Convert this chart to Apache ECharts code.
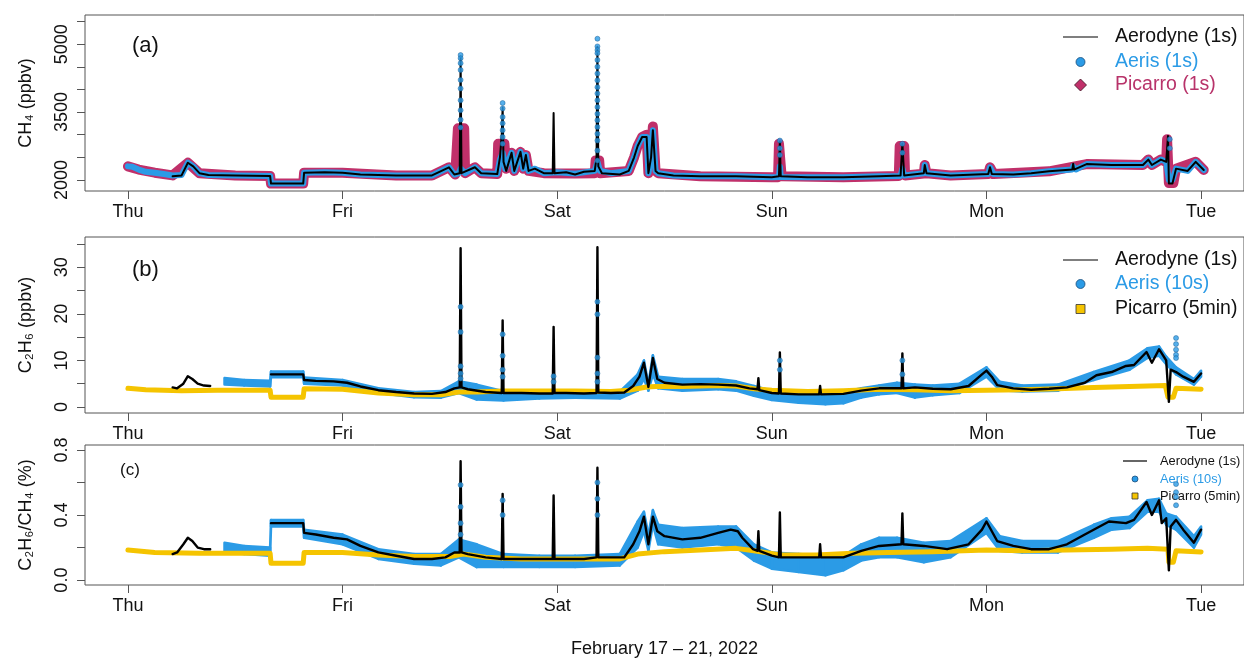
<!DOCTYPE html>
<html><head><meta charset="utf-8">
<script src="https://cdn.jsdelivr.net/npm/echarts@6/dist/echarts.min.js"></script>
<style>html,body{margin:0;padding:0;background:#fff}#c{width:1244px;height:659px}</style>
</head><body><div id="c"></div><script>
// ---- axis ticks / labels ----
const dayLabels = ['Thu','Fri','Sat','Sun','Mon','Tue'];
const dayHours = [0,24,48,72,96,120];
const ticksCH4 = [2000,2500,3000,3500,4000,4500,5000,5500];
const labelsCH4 = [2000,3500,5000];
const ticksC2H6 = [0,5,10,15,20,25,30,35];
const labelsC2H6 = [0,10,20,30];
const ticksRatio = [0,0.2,0.4,0.6,0.8];
const labelsRatio = [0,0.4,0.8];

// ---- panel (a) CH4, ppbv : [hour since Thu 00:00, value] ----
const aerodyneCH4 = [[5.0,2080],[6.0,2100],[6.7,2380],[7.3,2300],[8.0,2150],[9.0,2110],[12,2100],[15.9,2090],[16.0,1920],[19.6,1920],[19.7,2160],[22,2170],[24,2160],[26,2120],[30,2100],[34,2100],[35.9,2280],[36.5,2120],[37.1,2150],[37.2,4720],[37.3,2150],[38.8,2280],[39.5,2150],[41.3,2130],[41.6,2500],[41.8,3000],[41.9,3600],[42.0,2400],[42.3,2200],[42.9,2600],[43.2,2200],[43.9,2620],[44.2,2250],[44.5,2550],[44.8,2200],[45.5,2250],[46.5,2150],[47.5,2150],[47.6,3480],[47.7,2150],[49,2170],[50,2120],[51,2180],[52.2,2200],[52.4,2500],[52.5,4940],[52.6,2300],[53,2150],[55,2120],[56.0,2200],[56.6,2500],[57.0,2750],[57.5,2950],[58.0,2950],[58.2,2150],[58.5,2500],[58.7,3100],[59.0,2200],[59.3,2150],[61,2100],[64,2080],[68,2080],[72,2060],[72.8,2080],[72.9,2850],[73.0,2080],[76,2060],[80,2060],[84,2080],[86.4,2100],[86.6,2800],[86.8,2100],[89,2150],[89.1,2330],[89.3,2150],[92,2100],[96.2,2130],[96.4,2280],[96.6,2130],[99,2120],[101,2150],[103,2190],[105.6,2230],[105.7,2360],[105.8,2230],[107.2,2350],[110,2330],[113.5,2330],[114.1,2450],[114.5,2330],[115.5,2450],[116.1,2400],[116.3,2970],[116.4,1920],[116.8,1920],[117.2,2250],[118.5,2200],[119.4,2400],[120.3,2220]];
const aerisCH4 = [[0,2300],[0.5,2290],[1.2,2230],[2,2180],[3,2160],[4,2130],[5,2100],[6,2110],[6.7,2380],[7.3,2300],[8,2150],[9,2110],[12,2100],[15.9,2090],[16.0,1920],[19.6,1920],[19.7,2160],[22,2170],[24,2160],[26,2120],[30,2100],[34,2100],[35.9,2280],[36.5,2120],[37.0,2150],[37.2,2250],[37.7,2150],[38.8,2280],[39.5,2150],[41.3,2130],[41.6,2450],[41.9,2600],[42.2,2250],[42.9,2600],[43.2,2200],[43.9,2620],[44.2,2250],[44.5,2550],[44.8,2200],[45.5,2250],[46.5,2150],[48,2170],[50,2140],[52.2,2200],[52.5,2400],[52.8,2200],[54,2150],[56,2200],[56.6,2500],[57,2750],[57.5,2950],[58,2950],[58.2,2150],[58.5,2500],[58.7,3100],[59,2200],[59.3,2150],[61,2100],[64,2080],[68,2080],[72,2060],[72.8,2065],[72.9,2300],[73.0,2065],[76,2060],[80,2060],[84,2080],[86.4,2090],[86.6,2250],[86.8,2100],[89,2150],[89.1,2330],[89.3,2150],[92,2100],[96.2,2130],[96.4,2280],[96.8,2130],[99,2120],[101,2150],[103,2190],[105.6,2230],[105.7,2300],[106,2230],[107.2,2350],[110,2330],[113.5,2330],[114.1,2450],[114.5,2330],[115.5,2450],[116.1,2400],[116.4,2000],[116.8,2000],[117.2,2250],[118.5,2200],[119.4,2400],[120.3,2220]];
const picarroCH4 = [[0,2300],[1.2,2230],[3,2160],[5,2100],[6.7,2380],[8,2150],[12,2100],[15.9,2090],[16.0,1920],[19.6,1920],[19.7,2160],[24,2160],[30,2100],[34,2100],[35.9,2280],[36.6,2120],[36.8,2120],[36.9,3140],[37.6,3140],[37.7,2150],[38.8,2280],[39.5,2150],[41.3,2130],[41.4,2800],[42.1,2800],[42.3,2250],[42.9,2600],[43.2,2200],[43.9,2620],[44.2,2250],[44.5,2550],[44.8,2200],[46.5,2150],[50,2140],[52.2,2150],[52.3,2430],[52.7,2430],[52.8,2150],[56,2200],[56.6,2500],[57,2750],[57.5,2950],[58,3000],[58.2,2150],[58.5,2600],[58.7,3180],[59,2200],[59.3,2150],[64,2080],[72,2060],[72.7,2060],[72.8,2800],[73.0,2800],[73.1,2080],[80,2060],[86.2,2090],[86.3,2750],[86.8,2750],[86.9,2100],[89.0,2140],[89.1,2330],[89.3,2150],[92,2100],[96.2,2130],[96.4,2280],[96.8,2130],[103,2190],[107.2,2350],[113.5,2330],[114.1,2450],[114.5,2330],[115.5,2450],[116.1,2400],[116.2,2900],[116.4,1930],[116.9,1930],[117.2,2250],[119.4,2400],[120.3,2220]];
const aerisSpikesCH4 = [[37.2,4760],[37.2,4690],[37.2,4580],[37.2,4430],[37.2,4210],[37.2,4020],[37.2,3760],[37.2,3540],[37.2,3330],[37.2,3160],[41.9,3700],[41.9,3580],[41.9,3390],[41.9,3250],[41.9,3100],[41.9,2950],[41.9,2800],[52.5,5120],[52.5,4950],[52.5,4870],[52.5,4800],[52.5,4650],[52.5,4500],[52.5,4350],[52.5,4200],[52.5,4050],[52.5,3910],[52.5,3760],[52.5,3610],[52.5,3460],[52.5,3320],[52.5,3170],[52.5,3020],[52.5,2870],[52.5,2650],[52.5,2430],[72.9,2870],[72.9,2700],[72.9,2550],[86.6,2800],[86.6,2600],[116.5,2900],[116.5,2700]];

// ---- panel (b) C2H6, ppbv ----
const aerodyneC2H6 = [[5.0,4.2],[5.5,4.0],[6.2,5.0],[6.7,6.6],[7.2,6.0],[7.8,5.0],[8.5,4.6],[9.2,4.5],[9.6,null],[16.0,7.0],[19.6,7.0],[19.7,5.8],[21,5.6],[23,5.5],[24.5,5.2],[26,4.4],[28,3.6],[30,3.2],[32,2.9],[34,2.8],[35.5,3.2],[36.5,4.0],[37.1,4.2],[37.2,34.1],[37.3,4.2],[38,3.8],[40,3.2],[41.8,3.0],[41.9,18.6],[42.0,3.0],[44,3.0],[46,2.9],[47.5,2.9],[47.6,17.2],[47.7,3.0],[49,3.0],[51,2.9],[52.4,3.0],[52.5,34.3],[52.6,3.1],[54,3.0],[55.5,3.1],[56.5,4.5],[57.2,6.5],[57.7,9.5],[58.2,4.3],[58.7,10.5],[59.2,6.0],[60,5.2],[62,4.8],[64,4.9],[66,4.8],[68,4.6],[69.5,4.0],[70.4,3.8],[70.5,6.2],[70.6,3.6],[72,3.0],[72.8,2.9],[72.9,11.7],[73.0,2.9],[75,2.7],[77.3,2.7],[77.4,4.5],[77.5,2.7],[80,2.8],[82,3.5],[84,4.0],[86.5,4.0],[86.6,11.5],[86.7,4.0],[88,4.2],[90,3.9],[92,3.8],[94,4.5],[95.5,7.0],[96,7.8],[96.6,6.5],[97.2,4.7],[99,4.0],[101,3.7],[103,3.9],[105,4.2],[107,5.2],[108.3,6.8],[110,7.5],[111.6,8.8],[112.5,9.0],[113.9,11.8],[114.5,9.5],[115.3,12.4],[116.1,10.0],[116.4,1.1],[116.6,8.0],[117.2,7.5],[118,6.5],[119.2,5.4],[120,7.2]];
const picarroC2H6 = [[0,4.0],[2,3.7],[6,3.5],[10,3.6],[15.9,3.6],[16.0,2.1],[19.6,2.1],[19.7,3.9],[24,3.8],[28,3.0],[32,2.6],[35,2.6],[37,3.2],[39,3.2],[42,3.4],[46,3.4],[50,3.4],[54,3.3],[56,3.6],[58,4.3],[59,4.4],[62,4.4],[66,4.6],[68,4.5],[70,3.9],[72,3.6],[76,3.3],[80,3.5],[84,3.8],[88,3.7],[92,3.5],[96,3.6],[100,3.7],[104,3.9],[108,4.2],[112,4.4],[116,4.6],[116.3,2.1],[116.9,2.1],[117.2,4.0],[120,3.8]];
// Aeris spread: [hour, low, high]
const aerisBandC2H6 = [[10.8,4.8,6.2],[13,4.6,5.8],[15.9,4.4,5.6],[16.0,6.4,7.6],[19.6,6.4,7.6],[19.7,5.0,6.3],[24,4.6,5.8],[28,3.0,4.0],[32,2.1,3.2],[35,2.0,3.4],[37,3.0,5.5],[39,1.6,4.8],[42,1.4,3.4],[46,1.8,3.2],[50,2.0,3.4],[55,1.8,3.3],[57,3.5,7.0],[57.7,6.0,10.0],[58.2,3.5,5.0],[58.7,7.0,11.1],[59.3,4.0,6.5],[62,3.5,6.0],[66,3.8,6.0],[68,3.5,5.5],[70,2.4,4.5],[72,1.5,3.5],[75,0.9,3.4],[78,0.6,3.3],[80,0.8,3.2],[82,2.0,4.0],[84,2.7,4.6],[86,3.0,5.2],[88,2.0,4.8],[90,2.5,4.6],[93,3.0,5.0],[96,6.5,8.5],[97.5,3.6,5.4],[100,3.3,4.6],[104,3.5,4.8],[108,5.8,7.5],[112,8.0,10.0],[114,10.5,12.6],[115.3,11.0,13.0],[116.1,9.2,10.8],[117.2,7.0,8.5],[119.2,4.8,6.0],[120,6.5,7.8]];
const aerisSpikesC2H6 = [[37.2,21.5],[37.2,16.1],[37.2,8.75],[37.2,7.2],[37.2,6.1],[41.9,15.6],[41.9,11.0],[41.9,8.0],[41.9,6.5],[47.6,6.6],[47.6,5.4],[52.5,22.6],[52.5,19.9],[52.5,10.6],[52.5,7.2],[52.5,5.4],[72.9,10.0],[72.9,8.0],[86.6,10.0],[86.6,7.0],[117.2,14.8],[117.2,13.5],[117.2,12.3],[117.2,11.2],[117.2,10.5]];

// ---- panel (c) C2H6/CH4, % ----
const aerodyneRatio = [[5.0,0.16],[5.5,0.17],[6.2,0.22],[6.7,0.26],[7.2,0.24],[7.8,0.20],[8.5,0.19],[9.2,0.19],[9.6,null],[16.0,0.35],[19.6,0.35],[19.7,0.29],[21,0.28],[23,0.26],[24.5,0.25],[26,0.21],[28,0.17],[30,0.15],[32,0.13],[34,0.13],[35.5,0.14],[36.5,0.17],[37.1,0.17],[37.2,0.73],[37.3,0.17],[38,0.16],[40,0.14],[41.8,0.13],[41.9,0.53],[42.0,0.13],[44,0.13],[46,0.13],[47.5,0.13],[47.6,0.52],[47.7,0.13],[49,0.13],[51,0.13],[52.4,0.14],[52.5,0.69],[52.6,0.14],[54,0.14],[55.5,0.14],[56.5,0.22],[57.2,0.30],[57.7,0.39],[58.2,0.22],[58.7,0.39],[59.2,0.30],[60,0.27],[62,0.25],[64,0.26],[66,0.29],[67.4,0.31],[68.2,0.30],[68.7,0.26],[69.9,0.19],[70.4,0.18],[70.5,0.30],[70.6,0.18],[72,0.15],[72.8,0.14],[72.9,0.415],[73.0,0.14],[75,0.14],[77.3,0.14],[77.4,0.22],[77.5,0.14],[80,0.14],[82,0.18],[84,0.21],[86.5,0.22],[86.6,0.41],[86.7,0.22],[89,0.21],[91.6,0.19],[94,0.22],[95.5,0.31],[96,0.36],[96.6,0.30],[97.2,0.24],[99,0.21],[101,0.19],[103,0.19],[105,0.22],[107,0.28],[109.7,0.36],[111.6,0.35],[112.5,0.37],[113.9,0.48],[114.5,0.40],[115.3,0.49],[115.6,0.35],[116.1,0.38],[116.4,0.06],[116.6,0.33],[117.2,0.37],[118,0.31],[119.2,0.23],[120,0.31]];
const picarroRatio = [[0,0.185],[3,0.17],[8,0.165],[15.9,0.165],[16.0,0.104],[19.6,0.104],[19.7,0.17],[24,0.17],[28,0.155],[32,0.145],[36,0.145],[37.5,0.16],[40,0.14],[44,0.13],[50,0.13],[55,0.13],[57,0.16],[60,0.175],[64,0.185],[68,0.195],[70,0.18],[73,0.155],[77,0.155],[81,0.165],[85,0.17],[90,0.175],[96,0.185],[100,0.18],[105,0.185],[110,0.19],[114,0.196],[116.3,0.19],[116.4,0.11],[116.9,0.11],[117.2,0.18],[120,0.173]];
const aerisBandRatio = [[10.8,0.17,0.23],[13,0.16,0.21],[15.9,0.15,0.20],[16.0,0.33,0.37],[19.6,0.33,0.37],[19.7,0.26,0.31],[24,0.22,0.28],[28,0.13,0.19],[32,0.10,0.16],[35,0.09,0.16],[37,0.14,0.25],[39,0.08,0.22],[42,0.08,0.16],[46,0.08,0.15],[50,0.08,0.15],[55,0.09,0.16],[57,0.20,0.36],[57.7,0.30,0.42],[58.2,0.18,0.28],[58.7,0.34,0.43],[59.3,0.22,0.34],[62,0.20,0.32],[66,0.22,0.33],[68,0.20,0.33],[70,0.12,0.22],[72,0.07,0.17],[75,0.05,0.16],[78,0.03,0.15],[80,0.06,0.15],[82,0.12,0.22],[84,0.14,0.26],[86,0.14,0.26],[89,0.11,0.23],[92,0.14,0.24],[96,0.29,0.38],[97.5,0.18,0.27],[100,0.17,0.24],[104,0.17,0.24],[108,0.26,0.34],[110,0.31,0.38],[112,0.32,0.39],[114,0.42,0.49],[115.3,0.42,0.50],[116.1,0.34,0.41],[117.2,0.31,0.39],[119.2,0.20,0.27],[120,0.28,0.33]];
const aerisSpikesRatio = [[37.2,0.585],[37.2,0.45],[37.2,0.35],[37.2,0.28],[41.9,0.49],[41.9,0.40],[52.5,0.60],[52.5,0.50],[52.5,0.40],[117.2,0.59],[117.2,0.54],[117.2,0.51],[117.2,0.46]];

// ---- styling ----
const FONT = 'Liberation Sans, Arial, Helvetica, sans-serif';
const BLUE = '#2b9be6', CRIMSON = '#c0306a', YELLOW = '#f5c400', AX = '#555';
const grids = [
  {left:85, right:-4, top:15, height:176},
  {left:85, right:-4, top:237, height:176},
  {left:85, right:-4, top:445, height:152}
];
function xAxisFor(i){
  return {
    type:'value', gridIndex:i, min:-4.8, max:124.8,
    axisLine:{show:false, onZero:false}, splitLine:{show:false},
    axisTick:{show:true, length:8, lineStyle:{color:AX}, customValues:dayHours},
    axisLabel:{show:true, margin:12, fontSize:18, color:'#111', fontFamily:FONT,
      customValues:dayHours, formatter:v=>dayLabels[dayHours.indexOf(v)]},
    name: i===2 ? 'February 17 – 21, 2022' : '',
    nameLocation:'middle', nameGap:55,
    nameTextStyle:{fontSize:18, color:'#111', fontFamily:FONT}
  };
}
function yAxisFor(i,min,max,ticks,labels,name,fmt){
  return {
    type:'value', gridIndex:i, min:min, max:max,
    axisLine:{show:false, onZero:false}, splitLine:{show:false},
    axisTick:{show:true, length:8, lineStyle:{color:AX}, customValues:ticks},
    axisLabel:{show:true, rotate:90, margin:14, fontSize:18, color:'#111', fontFamily:FONT,
      customValues:labels, formatter:fmt},
    name:name, nameLocation:'middle', nameGap:50, nameRotate:90,
    nameTextStyle:{fontSize:18, color:'#111', fontFamily:FONT}
  };
}
function lineS(i,data,color,width,z){
  return {type:'line', xAxisIndex:i, yAxisIndex:i, data:data, showSymbol:false, symbol:'none',
    lineStyle:{color:color, width:width, join:'round', cap:'round'}, z:z, animation:false, silent:true};
}
// band between low and high, drawn segment by segment through the axis scales
function bandS(i,band,z){
  return {type:'custom', xAxisIndex:i, yAxisIndex:i, data:band, encode:{x:0, y:[1,2]}, clip:true, z:z,
    animation:false, silent:true,
    renderItem:function(params, api){
      const k = params.dataIndex;
      if(k >= band.length-1) return null;
      const a = band[k], b = band[k+1];
      const pts = [api.coord([a[0],a[1]]), api.coord([b[0],b[1]]), api.coord([b[0],b[2]]), api.coord([a[0],a[2]])];
      return {type:'polygon', shape:{points:pts}, style:{fill:BLUE, stroke:BLUE, lineWidth:2.5, lineJoin:'round'}};
    }};
}
function dotS(i,data,z){
  return {type:'scatter', xAxisIndex:i, yAxisIndex:i, data:data, symbol:'circle', symbolSize:5,
    itemStyle:{color:BLUE, borderColor:'#1a5d92', borderWidth:0.6}, z:z, animation:false, silent:true};
}

const legendG = [];
function legendBlock(x, ys, fs, items, lineLen, r){
  items.forEach((it,k)=>{
    const y = ys[k];
    const cx = x + lineLen/2;
    if(it.kind==='line') legendG.push({type:'line', shape:{x1:x, y1:y, x2:x+lineLen, y2:y}, style:{stroke:'#000', lineWidth:1.2}});
    if(it.kind==='circle') legendG.push({type:'circle', shape:{cx:cx, cy:y, r:r}, style:{fill:BLUE, stroke:'#1a4d7a', lineWidth:0.8}});
    if(it.kind==='diamond') legendG.push({type:'polygon', shape:{points:[[cx,y-r-1.5],[cx+r+1.5,y],[cx,y+r+1.5],[cx-r-1.5,y]]}, style:{fill:CRIMSON, stroke:'#3a1020', lineWidth:0.8}});
    if(it.kind==='square') legendG.push({type:'rect', shape:{x:cx-r, y:y-r, width:2*r, height:2*r}, style:{fill:YELLOW, stroke:'#333', lineWidth:0.8}});
    legendG.push({type:'text', x:x+lineLen+(fs>15?17:13), y:y, style:{text:it.label, fill:it.color, font:fs+'px '+FONT, textVerticalAlign:'middle'}});
  });
}
legendBlock(1063,[37,62,85],19.5,[{kind:'line',label:'Aerodyne (1s)',color:'#111'},{kind:'circle',label:'Aeris (1s)',color:BLUE},{kind:'diamond',label:'Picarro (1s)',color:'#b8336a'}],35,4.5);
legendBlock(1063,[260,284,309],19.5,[{kind:'line',label:'Aerodyne (1s)',color:'#111'},{kind:'circle',label:'Aeris (10s)',color:BLUE},{kind:'square',label:'Picarro (5min)',color:'#111'}],35,4.5);
legendBlock(1123,[461,479,496],12.8,[{kind:'line',label:'Aerodyne (1s)',color:'#111'},{kind:'circle',label:'Aeris (10s)',color:BLUE},{kind:'square',label:'Picarro (5min)',color:'#111'}],24,3);
legendG.push({type:'text', x:132, y:46, style:{text:'(a)', font:'22px '+FONT, fill:'#111', textVerticalAlign:'middle'}});
legendG.push({type:'text', x:132, y:270, style:{text:'(b)', font:'22px '+FONT, fill:'#111', textVerticalAlign:'middle'}});
legendG.push({type:'text', x:120, y:470, style:{text:'(c)', font:'17px '+FONT, fill:'#111', textVerticalAlign:'middle'}});

const chart = echarts.init(document.getElementById('c'), null, {renderer:'canvas'});
chart.setOption({
  animation:false,
  backgroundColor:'#fff',
  grid: grids.map(g=>Object.assign({show:true, borderColor:AX, borderWidth:1, backgroundColor:'transparent'}, g)),
  xAxis:[xAxisFor(0), xAxisFor(1), xAxisFor(2)],
  yAxis:[
    yAxisFor(0,1756,5644,ticksCH4,labelsCH4,'CH₄ (ppbv)',v=>String(v)),
    yAxisFor(1,-1.3,36.5,ticksC2H6,labelsC2H6,'C₂H₆ (ppbv)',v=>String(v)),
    yAxisFor(2,-0.03,0.83,ticksRatio,labelsRatio,'C₂H₆/CH₄ (%)',v=>v.toFixed(1))
  ],
  series:[
    lineS(0,picarroCH4,CRIMSON,10,1),
    lineS(0,aerisCH4,BLUE,6,2),
    lineS(0,aerodyneCH4,'#000',2,3),
    dotS(0,aerisSpikesCH4,4),
    bandS(1,aerisBandC2H6,1),
    lineS(1,picarroC2H6,YELLOW,5,2),
    lineS(1,aerodyneC2H6,'#000',2.4,3),
    dotS(1,aerisSpikesC2H6,4),
    bandS(2,aerisBandRatio,1),
    lineS(2,picarroRatio,YELLOW,5,2),
    lineS(2,aerodyneRatio,'#000',2.4,3),
    dotS(2,aerisSpikesRatio,4)
  ],
  graphic: legendG
});
</script></body></html>
